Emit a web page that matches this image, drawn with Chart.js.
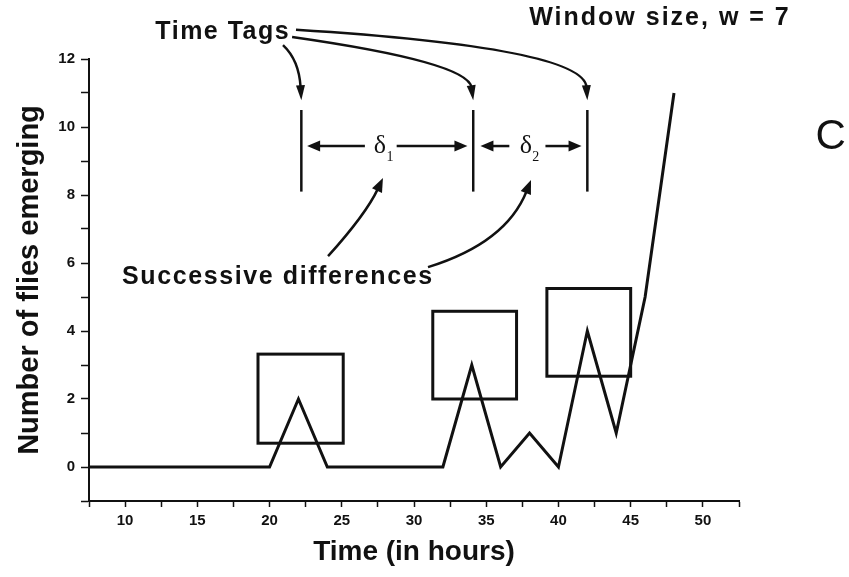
<!DOCTYPE html>
<html>
<head>
<meta charset="utf-8">
<script src="https://cdn.jsdelivr.net/npm/chart.js@4/dist/chart.umd.min.js"></script>
<style>
  body { margin: 0; background: #fff; }
</style>
</head>
<body>
<canvas id="chart" width="849" height="577"></canvas>
<script>
// emergence counts, every 2 hours
const hours = [6, 8, 10, 12, 14, 16, 18, 20, 22, 24, 26, 28, 30, 32, 34, 36, 38, 40, 42, 44, 46, 48];
const flies = [0, 0, 0, 0, 0, 0, 0, 0, 2, 0, 0, 0, 0, 0, 3, 0, 1, 0, 4, 1, 5, 11];

const xLabels = [10, 15, 20, 25, 30, 35, 40, 45, 50];
const yLabels = [0, 2, 4, 6, 8, 10, 12];

// windows (w = 7) drawn round each tagged peak
const windowStart = [19.2, 31.3, 39.2];
const windowEnd = [25.1, 37.1, 45.0];
const windowLow = [0.7, 2.0, 2.67];
const windowHigh = [3.32, 4.58, 5.25];

// time tags
const tagTimes = [22.2, 34.1, 42.0];

const ink = '#111';
const sans = '"Liberation Sans", Arial, sans-serif';

// arrow from a point, bent through ctrl, ending with a filled head at tip
function arrow(ctx, from, ctrl, tip, len, half) {
  const dx = tip[0] - ctrl[0], dy = tip[1] - ctrl[1];
  const d = Math.hypot(dx, dy);
  const ux = dx / d, uy = dy / d;
  const bx = tip[0] - ux * len, by = tip[1] - uy * len;
  ctx.beginPath();
  ctx.moveTo(from[0], from[1]);
  ctx.quadraticCurveTo(ctrl[0], ctrl[1], bx + ux * 2, by + uy * 2);
  ctx.stroke();
  ctx.beginPath();
  ctx.moveTo(tip[0], tip[1]);
  ctx.lineTo(bx - uy * half, by + ux * half);
  ctx.lineTo(bx + uy * half, by - ux * half);
  ctx.closePath();
  ctx.fill();
}

function label(ctx, text, at, font, spacing) {
  ctx.font = font;
  ctx.letterSpacing = spacing + 'px';
  // letterSpacing adds trailing space too, shift back half of it
  ctx.fillText(text, at[0] + spacing / 2, at[1]);
  ctx.letterSpacing = '0px';
}

const sketch = {
  id: 'sketch',
  afterDatasetsDraw(chart) {
    const { ctx, scales: { x, y } } = chart;
    const p = (a, b) => [x.getPixelForValue(a), y.getPixelForValue(b)];
    ctx.save();
    ctx.strokeStyle = ink;
    ctx.fillStyle = ink;
    ctx.lineWidth = 3;
    ctx.lineCap = 'butt';

    // window boxes
    windowStart.forEach((s, i) => {
      const [x0, y0] = p(s, windowHigh[i]);
      const [x1, y1] = p(windowEnd[i], windowLow[i]);
      ctx.strokeRect(x0, y0, x1 - x0, y1 - y0);
    });

    // tag bars
    ctx.lineWidth = 2.5;
    tagTimes.forEach((t) => {
      const [a, top] = p(t, 10.5);
      const [, bot] = p(t, 8.1);
      ctx.beginPath();
      ctx.moveTo(a, top);
      ctx.lineTo(a, bot);
      ctx.stroke();
    });

    // "Time Tags" leaders
    arrow(ctx, p(20.93, 12.41), p(22.04, 11.97), p(tagTimes[0], 10.79), 15, 4.5);
    arrow(ctx, p(21.56, 12.65), p(33.74, 11.91), p(tagTimes[1], 10.79), 15, 4.5);
    arrow(ctx, p(21.83, 12.86), p(41.76, 12.33), p(tagTimes[2], 10.79), 15, 4.5);

    // delta arrows
    const dy = 9.44;
    const straight = (a, b) => arrow(ctx, p(a, dy), p((a + b) / 2, dy), p(b, dy), 13, 5.5);
    straight(26.6, 22.6);
    straight(28.8, 33.7);
    straight(36.6, 34.6);
    straight(39.1, 41.6);

    // "Successive differences" leaders
    arrow(ctx, p(24.05, 6.2), p(26.68, 7.44), p(27.85, 8.5), 14, 5.5);
    arrow(ctx, p(30.97, 5.88), p(36.37, 6.59), p(38.1, 8.44), 14, 5.5);

    // deltas
    ctx.textAlign = 'center';
    ctx.textBaseline = 'middle';
    [[27.85, '1'], [37.95, '2']].forEach(([t, sub]) => {
      const [a, b] = p(t, 9.38);
      ctx.font = '26px "Liberation Serif", serif';
      ctx.fillText('δ', a - 3, b - 2);
      ctx.font = '14px "Liberation Serif", serif';
      ctx.fillText(sub, a + 7, b + 9);
    });

    // labels
    label(ctx, 'Time Tags', p(16.71, 12.8), 'bold 25px ' + sans, 1.5);
    label(ctx, 'Window size, w = 7', p(46.96, 13.21), 'bold 25px ' + sans, 2);
    label(ctx, 'Successive differences', p(20.52, 5.58), 'bold 25px ' + sans, 1.6);
    label(ctx, 'C', p(58.85, 9.7), '42px ' + sans, 0);
    ctx.restore();
  },
};

new Chart(document.getElementById('chart'), {
  type: 'line',
  data: {
    datasets: [
      {
        data: hours.map((h, i) => ({ x: h, y: flies[i] })),
        borderColor: ink,
        borderWidth: 3,
        pointRadius: 0,
        tension: 0,
        borderJoinStyle: 'miter',
      },
    ],
  },
  options: {
    responsive: false,
    animation: false,
    events: [],
    layout: { padding: { top: 59, right: 110, left: 0, bottom: 0 } },
    plugins: { legend: { display: false }, tooltip: { enabled: false } },
    scales: {
      x: {
        type: 'linear',
        min: 7.5,
        max: 52.5,
        afterFit: (s) => { s.height = 76; },
        border: { display: true, color: ink, width: 2 },
        grid: { drawOnChartArea: false, drawTicks: true, tickLength: 6, color: ink, tickWidth: 1.5 },
        ticks: {
          stepSize: 2.5,
          autoSkip: false,
          maxRotation: 0,
          padding: 5,
          color: ink,
          font: { size: 15, weight: 'bold' },
          callback: (v) => (xLabels.includes(v) ? v : ''),
        },
        title: {
          display: true,
          text: 'Time (in hours)',
          color: ink,
          font: { size: 28, weight: 'bold' },
          padding: { top: 0, bottom: 8 },
        },
      },
      y: {
        min: -1,
        max: 12,
        afterFit: (s) => { s.width = 89; },
        border: { display: true, color: ink, width: 2 },
        grid: { drawOnChartArea: false, drawTicks: true, tickLength: 8, color: ink, tickWidth: 1.5 },
        ticks: {
          stepSize: 1,
          autoSkip: false,
          padding: 6,
          color: ink,
          font: { size: 15, weight: 'bold' },
          callback: (v) => (yLabels.includes(v) ? v : ''),
        },
        title: {
          display: true,
          text: 'Number of flies emerging',
          color: ink,
          font: { size: 29, weight: 'bold' },
          padding: { top: 13, bottom: 0 },
        },
      },
    },
  },
  plugins: [sketch],
});
</script>
</body>
</html>
